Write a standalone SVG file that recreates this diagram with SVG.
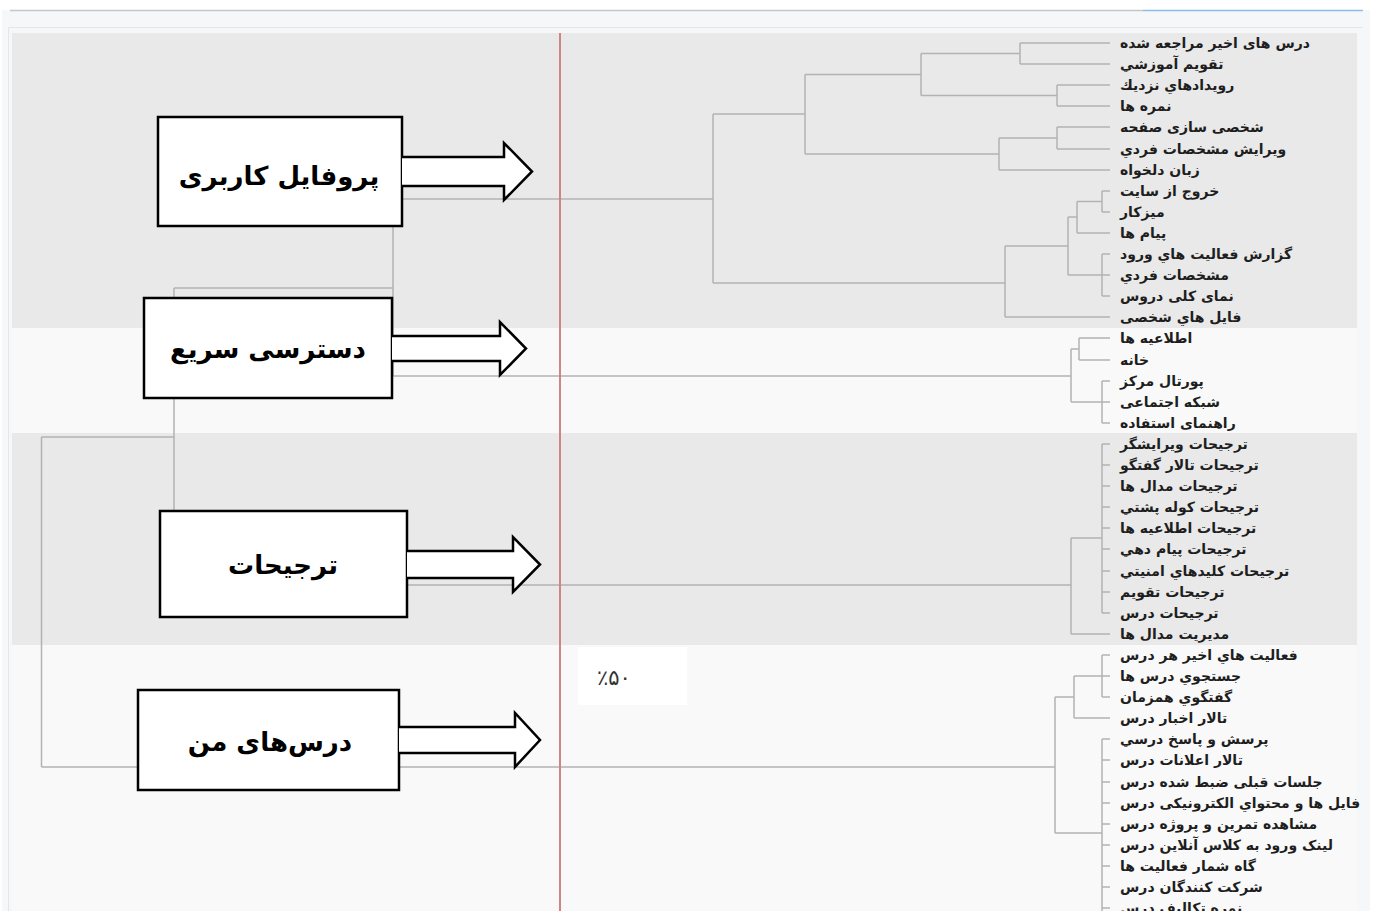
<svg xmlns="http://www.w3.org/2000/svg" width="1381" height="911" viewBox="0 0 1381 911">
<style>
.band1{fill:#e9e9e9}
.band2{fill:#f9f9f9}
.ln{stroke:#b3b3b3;stroke-width:1.5;fill:none}
.box{fill:#ffffff;stroke:#000000;stroke-width:2.5}
.arr{fill:#ffffff;stroke:#000000;stroke-width:2.5;stroke-linejoin:miter}
.bt{font-family:"DejaVu Sans",sans-serif;font-weight:bold;font-size:26px;fill:#000;text-anchor:middle}
.lf{font-family:"DejaVu Sans",sans-serif;font-size:14px;font-weight:bold;fill:#1e1e1e}
</style>
<rect x="0" y="0" width="1381" height="911" fill="#ffffff"/>
<rect x="2" y="10" width="1368" height="901" fill="#f6f7f9"/>
<line x1="10" y1="10.5" x2="1143" y2="10.5" stroke="#c4c6c8" stroke-width="1.5"/>
<line x1="1143" y1="10.5" x2="1363" y2="10.5" stroke="#8dbdf0" stroke-width="1.5"/>
<path d="M8.5 911 V27.5 H1363" fill="none" stroke="#e4e6e9" stroke-width="1"/>
<g id="bands">
<rect class="band1" x="12" y="33" width="1345" height="295"/>
<rect class="band2" x="12" y="328" width="1345" height="105"/>
<rect class="band1" x="12" y="433" width="1345" height="212"/>
<rect class="band2" x="12" y="645" width="1345" height="266"/>
</g>
<g id="connectors">
<path class="ln" d="M1020 43H1110M1020 64H1110M1020 43V64"/>
<path class="ln" d="M1057 85H1110M1057 106H1110M1057 85V106"/>
<path class="ln" d="M1057 127H1110M1057 149H1110M1057 127V149"/>
<path class="ln" d="M999 170H1110M999 138H1057M999 138V170"/>
<path class="ln" d="M921 53.5H1020M921 95.5H1057M921 53.5V95.5"/>
<path class="ln" d="M805 154H999M805 74.5H921M805 74.5V154"/>
<path class="ln" d="M1102 191H1110M1102 212H1110M1102 191V212"/>
<path class="ln" d="M1077 233H1110M1077 201.5H1102M1077 201.5V233"/>
<path class="ln" d="M1102 254H1110M1102 275H1110M1102 296H1110M1102 254V296"/>
<path class="ln" d="M1068 217H1077M1068 275H1102M1068 217V275"/>
<path class="ln" d="M1005 317H1110M1005 246H1068M1005 246V317"/>
<path class="ln" d="M713 283H1005M713 114H805M713 114V283"/>
<path class="ln" d="M393 199H713"/>
<path class="ln" d="M1079 338H1110M1079 360H1110M1079 338V360"/>
<path class="ln" d="M1102 381H1110M1102 402H1110M1102 423H1110M1102 381V423"/>
<path class="ln" d="M1071 349H1079M1071 402H1102M1071 349V402"/>
<path class="ln" d="M393 376H1071M393 199V376M174 288H393"/>
<path class="ln" d="M1102 444H1110M1102 465H1110M1102 486H1110M1102 507H1110M1102 528H1110M1102 549H1110M1102 571H1110M1102 592H1110M1102 613H1110M1102 444V613"/>
<path class="ln" d="M1071 538H1102M1071 634H1110M1071 538V634"/>
<path class="ln" d="M174 585H1071M174 288V585M41.5 437H174"/>
<path class="ln" d="M1102 655H1110M1102 676H1110M1102 697H1110M1102 655V697"/>
<path class="ln" d="M1074 676H1102M1074 718H1110M1074 676V718M1055 697H1074"/>
<path class="ln" d="M1102 739H1110M1102 760H1110M1102 782H1110M1102 803H1110M1102 824H1110M1102 845H1110M1102 866H1110M1102 887H1110M1102 908H1110M1102 739V911"/>
<path class="ln" d="M1055 833H1102M1055 697V833M41.5 767H1055M41.5 437V767"/>
</g>
<line id="cut-line" x1="560" y1="33" x2="560" y2="911" stroke="#d08585" stroke-width="2"/>
<g id="node-profile">
<rect class="box" x="158" y="117" width="244" height="109"/>
<path class="arr" d="M402 157H504V143L532 171.5L504 200V186H402"/>
<text class="bt" x="279" y="185">پروفایل کاربری</text>
</g>
<g id="node-quick">
<rect class="box" x="144" y="298" width="248" height="100"/>
<path class="arr" d="M392 336H500V322L526 348.5L500 375V361H392"/>
<text class="bt" x="268" y="358">دسترسی سریع</text>
</g>
<g id="node-prefs">
<rect class="box" x="160" y="511" width="247" height="106"/>
<path class="arr" d="M407 551H513V537L540 564.5L513 592V578H407"/>
<text class="bt" x="283" y="574">ترجیحات</text>
</g>
<g id="node-courses">
<rect class="box" x="138" y="690" width="261" height="100"/>
<path class="arr" d="M399 727H515V713L540 740L515 767V753H399"/>
<text class="bt" x="270" y="751">درس‌های من</text>
</g>
<g id="percent">
<rect x="578" y="647" width="109" height="58" fill="#ffffff"/>
<text x="597" y="685" font-family="DejaVu Sans, sans-serif" font-size="21" fill="#333">٪۵۰</text>
</g>
<g id="leaves" class="lf">
<text x="1120" y="48">درس های اخیر مراجعه شده</text>
<text x="1120" y="69">تقویم آموزشي</text>
<text x="1120" y="90">رویدادهاي نزديك</text>
<text x="1120" y="111">نمره ها</text>
<text x="1120" y="132">شخصی سازی صفحه</text>
<text x="1120" y="154">ویرایش مشخصات فردي</text>
<text x="1120" y="175">زبان دلخواه</text>
<text x="1120" y="196">خروج از سایت</text>
<text x="1120" y="217">میزکار</text>
<text x="1120" y="238">پیام ها</text>
<text x="1120" y="259">گزارش فعالیت هاي ورود</text>
<text x="1120" y="280">مشخصات فردي</text>
<text x="1120" y="301">نمای کلی دروس</text>
<text x="1120" y="322">فایل هاي شخصی</text>
<text x="1120" y="343">اطلاعیه ها</text>
<text x="1120" y="365">خانه</text>
<text x="1120" y="386">پورتال مرکز</text>
<text x="1120" y="407">شبکه اجتماعی</text>
<text x="1120" y="428">راهنمای استفاده</text>
<text x="1120" y="449">ترجیحات ویرایشگر</text>
<text x="1120" y="470">ترجیحات تالار گفتگو</text>
<text x="1120" y="491">ترجیحات مدال ها</text>
<text x="1120" y="512">ترجیحات کوله پشتي</text>
<text x="1120" y="533">ترجیحات اطلاعیه ها</text>
<text x="1120" y="554">ترجیحات پیام دهي</text>
<text x="1120" y="576">ترجیحات کلیدهاي امنیتي</text>
<text x="1120" y="597">ترجیحات تقویم</text>
<text x="1120" y="618">ترجیحات درس</text>
<text x="1120" y="639">مدیریت مدال ها</text>
<text x="1120" y="660">فعالیت هاي اخیر هر درس</text>
<text x="1120" y="681">جستجوي درس ها</text>
<text x="1120" y="702">گفتگوي همزمان</text>
<text x="1120" y="723">تالار اخبار درس</text>
<text x="1120" y="744">پرسش و پاسخ درسي</text>
<text x="1120" y="765">تالار اعلانات درس</text>
<text x="1120" y="787">جلسات قبلی ضبط شده درس</text>
<text x="1120" y="808">فایل ها و محتواي الکترونیکی درس</text>
<text x="1120" y="829">مشاهده تمرین و پروژه درس</text>
<text x="1120" y="850">لینک ورود به کلاس آنلاین درس</text>
<text x="1120" y="871">گاه شمار فعالیت ها</text>
<text x="1120" y="892">شرکت کنندگان درس</text>
<text x="1120" y="913">نمره تکالیف درس</text>
</g>
</svg>
